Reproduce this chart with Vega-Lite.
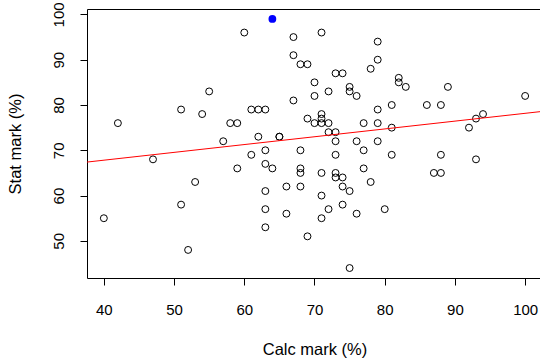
{
  "$schema": "https://vega.github.io/schema/vega-lite/v6.json",
  "width": 455,
  "height": 269,
  "autosize": {"type": "none"},
  "padding": {"left": 87, "top": 9, "right": 0, "bottom": 84},
  "background": "white",
  "config": {
    "view": {"stroke": "black", "strokeWidth": 1},
    "font": "Liberation Sans",
    "axis": {
      "domain": false,
      "grid": false,
      "tickColor": "black",
      "tickSize": 7,
      "tickWidth": 1,
      "labelColor": "black",
      "labelFont": "Liberation Sans",
      "labelFontSize": 15,
      "titleFont": "Liberation Sans",
      "titleFontSize": 16.5,
      "titleFontWeight": "normal",
      "titleColor": "black"
    }
  },
  "datasets": {
    "marks": [
      {"calc": 42, "stat": 76, "hl": false},
      {"calc": 51, "stat": 79, "hl": false},
      {"calc": 55, "stat": 83, "hl": false},
      {"calc": 54, "stat": 78, "hl": false},
      {"calc": 58, "stat": 76, "hl": false},
      {"calc": 59, "stat": 76, "hl": false},
      {"calc": 57, "stat": 72, "hl": false},
      {"calc": 64, "stat": 99, "hl": true},
      {"calc": 60, "stat": 96, "hl": false},
      {"calc": 67, "stat": 95, "hl": false},
      {"calc": 71, "stat": 96, "hl": false},
      {"calc": 79, "stat": 94, "hl": false},
      {"calc": 67, "stat": 91, "hl": false},
      {"calc": 68, "stat": 89, "hl": false},
      {"calc": 69, "stat": 89, "hl": false},
      {"calc": 79, "stat": 90, "hl": false},
      {"calc": 78, "stat": 88, "hl": false},
      {"calc": 73, "stat": 87, "hl": false},
      {"calc": 74, "stat": 87, "hl": false},
      {"calc": 70, "stat": 85, "hl": false},
      {"calc": 72, "stat": 83, "hl": false},
      {"calc": 75, "stat": 84, "hl": false},
      {"calc": 75, "stat": 83, "hl": false},
      {"calc": 76, "stat": 82, "hl": false},
      {"calc": 70, "stat": 82, "hl": false},
      {"calc": 67, "stat": 81, "hl": false},
      {"calc": 61, "stat": 79, "hl": false},
      {"calc": 62, "stat": 79, "hl": false},
      {"calc": 63, "stat": 79, "hl": false},
      {"calc": 79, "stat": 79, "hl": false},
      {"calc": 81, "stat": 80, "hl": false},
      {"calc": 69, "stat": 77, "hl": false},
      {"calc": 71, "stat": 78, "hl": false},
      {"calc": 71, "stat": 77, "hl": false},
      {"calc": 70, "stat": 76, "hl": false},
      {"calc": 71, "stat": 76, "hl": false},
      {"calc": 72, "stat": 76, "hl": false},
      {"calc": 77, "stat": 76, "hl": false},
      {"calc": 79, "stat": 76, "hl": false},
      {"calc": 62, "stat": 73, "hl": false},
      {"calc": 65, "stat": 73, "hl": false},
      {"calc": 65, "stat": 73, "hl": false},
      {"calc": 72, "stat": 74, "hl": false},
      {"calc": 73, "stat": 74, "hl": false},
      {"calc": 73, "stat": 72, "hl": false},
      {"calc": 76, "stat": 72, "hl": false},
      {"calc": 79, "stat": 72, "hl": false},
      {"calc": 82, "stat": 86, "hl": false},
      {"calc": 82, "stat": 85, "hl": false},
      {"calc": 83, "stat": 84, "hl": false},
      {"calc": 89, "stat": 84, "hl": false},
      {"calc": 100, "stat": 82, "hl": false},
      {"calc": 86, "stat": 80, "hl": false},
      {"calc": 88, "stat": 80, "hl": false},
      {"calc": 81, "stat": 75, "hl": false},
      {"calc": 92, "stat": 75, "hl": false},
      {"calc": 93, "stat": 77, "hl": false},
      {"calc": 94, "stat": 78, "hl": false},
      {"calc": 47, "stat": 68, "hl": false},
      {"calc": 59, "stat": 66, "hl": false},
      {"calc": 53, "stat": 63, "hl": false},
      {"calc": 51, "stat": 58, "hl": false},
      {"calc": 40, "stat": 55, "hl": false},
      {"calc": 52, "stat": 48, "hl": false},
      {"calc": 63, "stat": 70, "hl": false},
      {"calc": 68, "stat": 70, "hl": false},
      {"calc": 61, "stat": 69, "hl": false},
      {"calc": 73, "stat": 69, "hl": false},
      {"calc": 77, "stat": 70, "hl": false},
      {"calc": 81, "stat": 69, "hl": false},
      {"calc": 63, "stat": 67, "hl": false},
      {"calc": 64, "stat": 66, "hl": false},
      {"calc": 68, "stat": 66, "hl": false},
      {"calc": 68, "stat": 65, "hl": false},
      {"calc": 71, "stat": 65, "hl": false},
      {"calc": 73, "stat": 65, "hl": false},
      {"calc": 73, "stat": 64, "hl": false},
      {"calc": 74, "stat": 64, "hl": false},
      {"calc": 77, "stat": 66, "hl": false},
      {"calc": 78, "stat": 63, "hl": false},
      {"calc": 63, "stat": 61, "hl": false},
      {"calc": 66, "stat": 62, "hl": false},
      {"calc": 68, "stat": 62, "hl": false},
      {"calc": 74, "stat": 62, "hl": false},
      {"calc": 75, "stat": 61, "hl": false},
      {"calc": 71, "stat": 60, "hl": false},
      {"calc": 63, "stat": 57, "hl": false},
      {"calc": 66, "stat": 56, "hl": false},
      {"calc": 72, "stat": 57, "hl": false},
      {"calc": 74, "stat": 58, "hl": false},
      {"calc": 76, "stat": 56, "hl": false},
      {"calc": 80, "stat": 57, "hl": false},
      {"calc": 71, "stat": 55, "hl": false},
      {"calc": 63, "stat": 53, "hl": false},
      {"calc": 69, "stat": 51, "hl": false},
      {"calc": 75, "stat": 44, "hl": false},
      {"calc": 88, "stat": 69, "hl": false},
      {"calc": 93, "stat": 68, "hl": false},
      {"calc": 87, "stat": 65, "hl": false},
      {"calc": 88, "stat": 65, "hl": false}
    ],
    "fit": [
      {"calc": 37.6, "stat": 67.40},
      {"calc": 102.4, "stat": 78.58}
    ]
  },
  "encoding": {
    "x": {
      "field": "calc",
      "type": "quantitative",
      "scale": {"domain": [37.6, 102.4], "nice": false, "zero": false},
      "axis": {"values": [40, 50, 60, 70, 80, 90, 100], "title": "Calc mark (%)", "labelPadding": 17, "titlePadding": 24}
    },
    "y": {
      "field": "stat",
      "type": "quantitative",
      "scale": {"domain": [41.8, 101.2], "nice": false, "zero": false},
      "axis": {"values": [50, 60, 70, 80, 90, 100], "title": "Stat mark (%)", "labelAngle": -90, "labelAlign": "center", "labelBaseline": "bottom", "labelPadding": 14, "titlePadding": 28}
    }
  },
  "layer": [
    {
      "data": {"name": "marks"},
      "transform": [{"filter": "!datum.hl"}],
      "mark": {"type": "point", "shape": "circle", "filled": false, "stroke": "black", "strokeWidth": 1, "size": 48, "opacity": 1}
    },
    {
      "data": {"name": "fit"},
      "mark": {"type": "line", "color": "#ff0000", "strokeWidth": 1, "clip": true}
    },
    {
      "data": {"name": "marks"},
      "transform": [{"filter": "datum.hl"}],
      "mark": {"type": "point", "shape": "circle", "filled": true, "color": "#0000ff", "size": 60, "opacity": 1}
    }
  ]
}
